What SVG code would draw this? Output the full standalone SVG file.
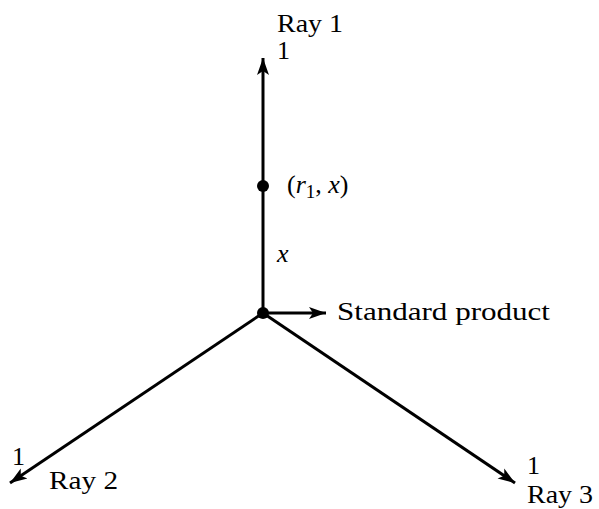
<svg xmlns="http://www.w3.org/2000/svg" width="599" height="509" viewBox="0 0 599 509">
<style>
text{font-family:"Liberation Serif","Times New Roman",serif;font-size:26px;fill:#000}
.it{font-style:italic}
.ln{stroke:#000;stroke-width:3;fill:none}
</style>
<defs>
<marker id="ah" markerUnits="userSpaceOnUse" markerWidth="20" markerHeight="14" refX="17" refY="7" orient="auto">
<path d="M0,1 L17,7 L0,13 L4,7 Z" fill="#000"/>
</marker>
</defs>
<rect width="599" height="509" fill="#fff"/>
<g id="connectors">
<line class="ln" x1="263" y1="313" x2="263" y2="58" marker-end="url(#ah)"/>
<line class="ln" x1="263" y1="313" x2="326" y2="313" marker-end="url(#ah)"/>
<line class="ln" x1="263" y1="313" x2="10" y2="483" marker-end="url(#ah)"/>
<line class="ln" x1="263" y1="313" x2="515" y2="483" marker-end="url(#ah)"/>
</g>
<g id="center"><circle cx="263" cy="313" r="6" fill="#000"/></g>
<g id="point"><circle cx="263" cy="186" r="6" fill="#000"/>
<text x="287" y="193" font-size="27">(<tspan class="it">r</tspan><tspan font-size="19" dy="5">1</tspan><tspan dy="-5">, </tspan><tspan class="it">x</tspan>)</text></g>
<g id="xlabel"><text class="it" x="277" y="262" font-size="27">x</text></g>
<g id="ray1"><text x="277" y="32" textLength="66" lengthAdjust="spacingAndGlyphs">Ray 1</text><text x="277" y="59">1</text></g>
<g id="standard"><text x="337" y="320" font-size="27" textLength="213" lengthAdjust="spacingAndGlyphs">Standard product</text></g>
<g id="ray2"><text x="12" y="465">1</text><text x="49" y="489" textLength="69" lengthAdjust="spacingAndGlyphs">Ray 2</text></g>
<g id="ray3"><text x="527" y="474" font-size="24">1</text><text x="527" y="503" font-size="24" textLength="66" lengthAdjust="spacingAndGlyphs">Ray 3</text></g>
</svg>
